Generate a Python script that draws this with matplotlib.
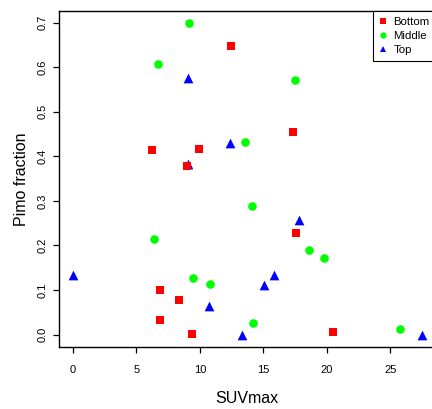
import matplotlib
matplotlib.use("Agg")
import matplotlib.pyplot as plt
from matplotlib.lines import Line2D

plt.rcParams['font.family'] = ['Liberation Sans', 'DejaVu Sans']

# Data
bottom_x = [12.46, 6.26, 9.94, 8.99, 17.35, 17.6, 6.89, 8.36, 6.86, 9.38, 20.5]
bottom_y = [0.648, 0.414, 0.417, 0.378, 0.455, 0.228, 0.100, 0.077, 0.032, 0.001, 0.005]

middle_x = [9.15, 6.68, 17.5, 13.56, 14.09, 6.39, 18.6, 19.8, 9.46, 10.78, 14.17, 25.76]
middle_y = [0.698, 0.608, 0.571, 0.432, 0.288, 0.214, 0.189, 0.172, 0.126, 0.113, 0.025, 0.013]

top_x = [9.04, 12.38, 9.1, 17.8, 0.0, 15.85, 15.04, 10.75, 13.3, 27.47]
top_y = [0.575, 0.429, 0.382, 0.258, 0.133, 0.133, 0.112, 0.064, 0.0, 0.0]

legend_labels = ['Bottom', 'Middle', 'Top']
xticks = [0, 5, 10, 15, 20, 25]
yticks = [0.0, 0.1, 0.2, 0.3, 0.4, 0.5, 0.6, 0.7]

W, H = 432, 409
fig = plt.figure(figsize=(W / 100, H / 100), dpi=100)

xlim = (-1.099, 28.57)
ylim = (-0.0279, 0.726)
left_px, bottom_px, top_px = 59, 347, 11
px_per_x = 12.69
width_px = (xlim[1] - xlim[0]) * px_per_x
ax = fig.add_axes([left_px / W, (H - bottom_px) / H, width_px / W, (bottom_px - top_px) / H])

ax.scatter(top_x, top_y, marker='^', s=7.0**2, color='#0000FF', linewidths=0, zorder=3)
ax.scatter(middle_x, middle_y, marker='o', s=6.2**2, color='#00FF00', linewidths=0, zorder=3)
ax.scatter(bottom_x, bottom_y, marker='s', s=5.9**2, color='#FF0000', linewidths=0, zorder=4)

ax.set_xlim(*xlim)
ax.set_ylim(*ylim)
ax.set_xticks(xticks)
ax.set_xticklabels([str(t) for t in xticks])
ax.set_yticks(yticks)
ax.set_yticklabels([f"{t:.1f}" for t in yticks], rotation=90, va='center')

for s in ax.spines.values():
    s.set_linewidth(1.0)
    s.set_color('black')

ax.tick_params(axis='both', direction='out', length=4.3, width=0.9, labelsize=8, colors='black')
ax.tick_params(axis='x', pad=9)
ax.tick_params(axis='y', pad=4)

ax.set_xlabel('SUVmax', fontsize=11.5, labelpad=11)
ax.set_ylabel('Pimo fraction', fontsize=11.5, labelpad=6)

handles = [
    Line2D([], [], marker='s', color='#FF0000', linestyle='none', markersize=4.3, markeredgewidth=0),
    Line2D([], [], marker='o', color='#00FF00', linestyle='none', markersize=4.5, markeredgewidth=0),
    Line2D([], [], marker='^', color='#0000FF', linestyle='none', markersize=5.0, markeredgewidth=0),
]
leg = ax.legend(handles, legend_labels, loc='upper right', borderaxespad=0,
                fancybox=False, edgecolor='black', framealpha=1, fontsize=8.2,
                handlelength=0.8, handletextpad=0.5, borderpad=0.5, labelspacing=0.38)
leg.get_frame().set_linewidth(0.8)

fig.savefig('out.png', dpi=100)
